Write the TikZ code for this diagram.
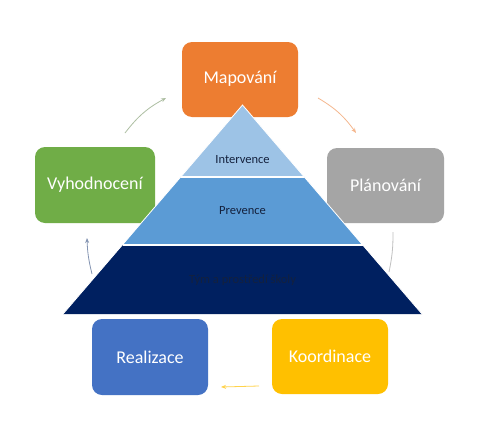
\documentclass[tikz,border=0pt]{standalone}
\usepackage{fontspec}
\setmainfont{Carlito}
\usetikzlibrary{arrows.meta}
\definecolor{cOrange}{HTML}{ED7D31}
\definecolor{cGreen}{HTML}{70AD47}
\definecolor{cGray}{HTML}{A5A5A5}
\definecolor{cBlue}{HTML}{4472C4}
\definecolor{cYellow}{HTML}{FFC000}
\definecolor{pTop}{HTML}{9DC3E6}
\definecolor{pMid}{HTML}{5B9BD5}
\definecolor{pBot}{HTML}{002060}
\definecolor{pText}{HTML}{14213D}
\begin{document}
\begin{tikzpicture}[x=1pt,y=-1pt,
  stagebox/.style={rounded corners=10pt,text=white,font=\fontsize{18}{20}\selectfont,inner sep=0pt},
  layertext/.style={text=pText,font=\fontsize{12.5}{14}\selectfont,inner sep=0pt},
  flow/.style={line width=0.8pt,-{Stealth[length=5pt,width=4pt]}}]
\useasboundingbox (0,0) rectangle (495,431);
\fill[white] (0,0) rectangle (495,431);
% boxes
\fill[cOrange,rounded corners=10pt] (182,42) rectangle (298,117);
\node[stagebox] (map) at (240,79) {Mapování};
\fill[cGreen,rounded corners=10pt] (35,147) rectangle (155,223);
\node[stagebox] (vyh) at (95,185) {Vyhodnocení};
\fill[cGray,rounded corners=10pt] (327,148) rectangle (444,223);
\node[stagebox] (plan) at (385.5,185.5) {Plánování};
\fill[cBlue,rounded corners=10pt] (92,319) rectangle (208,395);
\node[stagebox] (real) at (150,357) {Realizace};
\fill[cYellow,rounded corners=10pt] (272,319) rectangle (388,394);
\node[stagebox] (koord) at (330,356.5) {Koordinace};
% pyramid
\fill[pTop] (242.5,105) -- (304.3,177) -- (180.7,177) -- cycle;
\fill[pMid] (180.7,177) -- (304.3,177) -- (362.5,245) -- (122.5,245) -- cycle;
\fill[pBot] (122.5,245) -- (362.5,245) -- (422,314) -- (63,314) -- cycle;
\draw[white,line width=1.2pt] (180.7,177) -- (304.3,177);
\draw[white,line width=1.2pt] (122.5,245) -- (362.5,245);
\draw[white,line width=0.8pt] (63,314) -- (242.5,105) -- (422,314);
\node[layertext] (int) at (242.5,160) {Intervence};
\node[layertext] (prev) at (242.5,211) {Prevence};
\node[layertext] (tym) at (242.5,280) {Tým a prostředí školy};
% arrows
\coordinate (g1) at (125,133); \coordinate (g2) at (166,98);
\draw[flow,draw=cGreen!45!gray!60] (g1) to[bend left=12] (g2);
\coordinate (o1) at (318,98); \coordinate (o2) at (356,133);
\draw[flow,draw=cOrange!55] (o1) to[bend left=12] (o2);
\coordinate (r1) at (393,232); \coordinate (r2) at (389,272);
\draw[line width=0.8pt,draw=cGray!70] (r1) to[bend left=6] (r2);
\coordinate (y1) at (259,386); \coordinate (y2) at (221,387);
\draw[flow,draw=cYellow!70] (y1) -- (y2);
\coordinate (b1) at (92,274); \coordinate (b2) at (87,238);
\draw[flow,draw=cBlue!45!gray!80] (b1) to[bend left=6] (b2);
\end{tikzpicture}
\end{document}
